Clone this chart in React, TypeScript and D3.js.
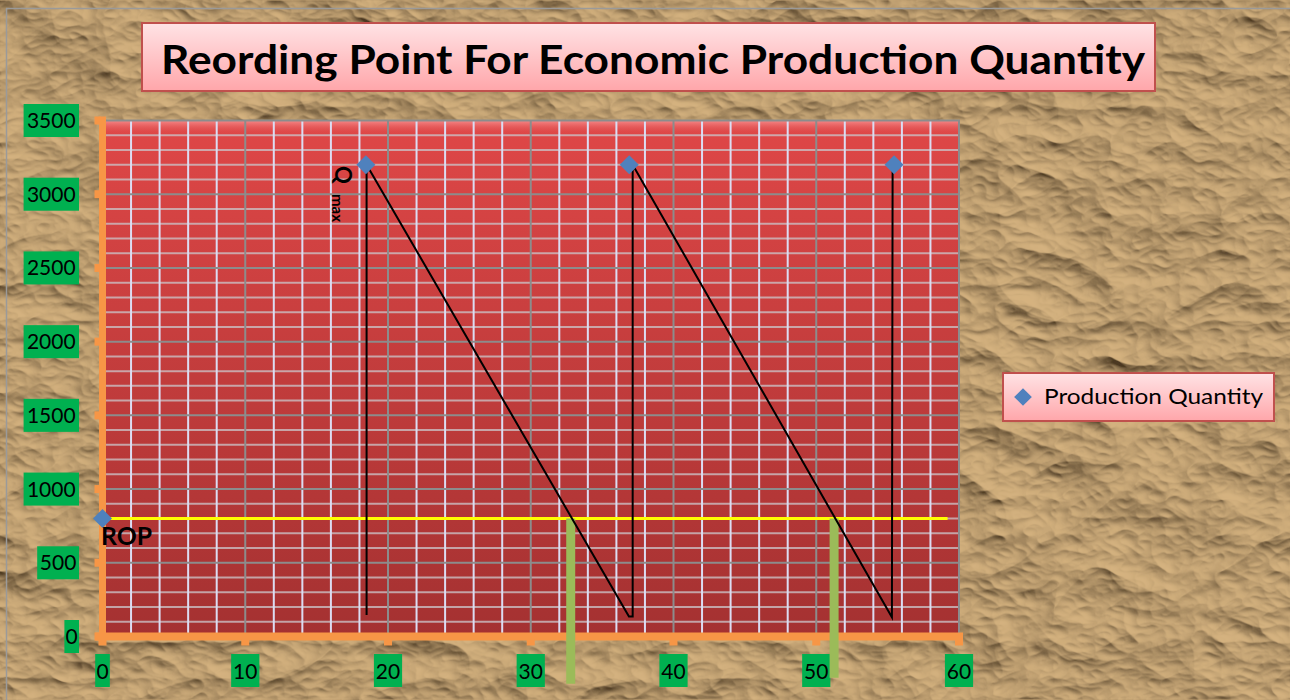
import React from "react";
import * as d3 from "d3";

const title = "Reording Point For Economic Production Quantity";
const legendLabel = "Production Quantity";
const xTicks = [0, 10, 20, 30, 40, 50, 60];
const yTicks = [0, 500, 1000, 1500, 2000, 2500, 3000, 3500];
// Production quantity markers (Q max) and the ROP marker
const qmaxX = [18.45, 36.9, 55.45];
const qmaxY = [3200, 3200, 3200];
const ropX = [0];
const ropY = [800];
// Inventory saw-tooth path
const invX = [18.5, 18.5, 36.88, 37.14, 37.14, 55.3, 55.35];
const invY = [145, 3200, 135, 135, 3200, 130, 3200];
// Reorder line
const ropLineX = [0, 59.2];
const ropLineY = [800, 800];
// Lead-time markers (green bars)
const leadX = [32.8, 51.25];
const leadTop = [800, 800];
const leadBottom = [-320, -280];

const W = 1290, H = 700;
const left = 102.5, right = 959, top = 120.5, bottom = 636.5;
const FONT = "Lato, 'Open Sans', sans-serif";

export default function App() {
  const x = d3.scaleLinear().domain([0, 60]).range([left, right]);
  const y = d3.scaleLinear().domain([0, 3500]).range([bottom, top]);
  const minorX = d3.range(0, 61, 2).filter((v) => v % 10 !== 0);
  const majorX = d3.range(10, 60, 10);
  const minorY = d3.range(100, 3500, 100).filter((v) => v % 500 !== 0);
  const majorY = d3.range(500, 3500, 500);
  const line = d3.line<number>().x((_, i) => x(invX[i])).y((_, i) => y(invY[i]));
  const ropLine = d3.line<number>().x((_, i) => x(ropLineX[i])).y((_, i) => y(ropLineY[i]));
  const diamond = d3.symbol().type(d3.symbolDiamond2).size(230)();
  const legendDiamond = d3.symbol().type(d3.symbolDiamond2).size(200)();
  const digitW = 13.6;

  return (
    <svg width={W} height={H} style={{ position: "absolute", left: 0, top: 0 }} fontFamily={FONT}>
      <defs>
        <filter id="paper" x="0" y="0" width="100%" height="100%" filterUnits="userSpaceOnUse">
          <feTurbulence type="turbulence" baseFrequency="0.009 0.014" numOctaves={4} seed={11} result="noise" />
          <feDiffuseLighting in="noise" lightingColor="#e2bf8a" surfaceScale={10} diffuseConstant={1.0} result="light">
            <feDistantLight azimuth={120} elevation={46} />
          </feDiffuseLighting>
          <feFlood floodColor="#86663e" result="base" />
          <feComposite in="light" in2="base" operator="arithmetic" k1={0} k2={0.78} k3={0.3} k4={0} />
        </filter>
        <linearGradient id="plotFill" x1="0" y1="0" x2="0" y2="1">
          <stop offset="0" stopColor="#df4747" />
          <stop offset="1" stopColor="#a43131" />
        </linearGradient>
        <linearGradient id="bevel" x1="0" y1="0" x2="0" y2="1">
          <stop offset="0" stopColor="#f58a8a" />
          <stop offset="1" stopColor="#e04848" stopOpacity={0} />
        </linearGradient>
        <linearGradient id="vgrid" x1="0" y1="0" x2="0" y2="1" gradientUnits="userSpaceOnUse">
          <stop offset="0" stopColor="#9fb7e6" />
          <stop offset="1" stopColor="#dcdcf2" />
        </linearGradient>
        <linearGradient id="pinkBox" x1="0" y1="0" x2="0" y2="1">
          <stop offset="0" stopColor="#ffe3e5" />
          <stop offset="1" stopColor="#ffa6aa" />
        </linearGradient>
      </defs>

      <rect x={0} y={0} width={W} height={H} fill="#ffffff" />
      <rect x={6} y={8} width={W - 6} height={H - 8} fill="#b89a6c" filter="url(#paper)" />
      <line x1={6.5} y1={8} x2={6.5} y2={H} stroke="#9a9a9a" strokeWidth={1.5} />
      <line x1={6} y1={8.5} x2={W} y2={8.5} stroke="#9a9a9a" strokeWidth={1.5} />

      {/* Title */}
      <rect x={142} y={23} width={1013} height={68} fill="url(#pinkBox)" stroke="#c0504d" strokeWidth={2} />
      <text x={653} y={74} textAnchor="middle" fontSize={40} fontWeight="bold" fill="#000"
        textLength={984} lengthAdjust="spacingAndGlyphs">{title}</text>

      {/* Plot area */}
      <rect x={left} y={top} width={right - left} height={bottom - top} fill="url(#plotFill)" />
      <rect x={left} y={top} width={right - left} height={14} fill="url(#bevel)" />
      {minorY.map((v) => (
        <line key={"hy" + v} x1={left} x2={right} y1={y(v)} y2={y(v)} stroke="#cbbfc3" strokeOpacity={0.8} strokeWidth={2} />
      ))}
      {minorX.map((v) => (
        <line key={"vx" + v} x1={x(v)} x2={x(v)} y1={top} y2={bottom} stroke="url(#vgrid)" strokeWidth={2} />
      ))}
      {majorY.map((v) => (
        <line key={"My" + v} x1={left} x2={right} y1={y(v)} y2={y(v)} stroke="#8c8c8c" strokeWidth={2} />
      ))}
      {majorX.map((v) => (
        <line key={"Mx" + v} x1={x(v)} x2={x(v)} y1={top} y2={bottom} stroke="#8c8c8c" strokeWidth={2} />
      ))}
      <line x1={left} x2={right + 1} y1={top} y2={top} stroke="#8c8c8c" strokeWidth={2} />
      <line x1={right} x2={right} y1={top} y2={bottom} stroke="#8c8c8c" strokeWidth={2} />

      {/* Axes */}
      <line x1={x(0)} x2={x(0)} y1={top - 4} y2={bottom + 4} stroke="#f79646" strokeWidth={7} />
      <line x1={x(0) - 7} x2={right + 4} y1={bottom} y2={bottom} stroke="#f79646" strokeWidth={8} />
      {yTicks.map((v) => (
        <rect key={"yt" + v} x={x(0) - 8} y={y(v) - 4} width={6} height={8} fill="#f79646" />
      ))}
      {xTicks.map((v) => (
        <rect key={"xt" + v} x={x(v) - 4} y={bottom + 3} width={8} height={6} fill="#f79646" />
      ))}

      {/* Y tick labels */}
      {yTicks.map((v) => {
        const s = String(v);
        const w = s.length * digitW + 1;
        return (
          <g key={"yl" + v}>
            <rect x={79 - w} y={y(v) - 16.5} width={w} height={33} fill="#00b050" />
            <text x={79 - w / 2} y={y(v) + 7.5} textAnchor="middle" fontSize={21} fill="#000">{s}</text>
          </g>
        );
      })}
      {/* X tick labels */}
      {xTicks.map((v) => {
        const s = String(v);
        const w = s.length * digitW + 1;
        return (
          <g key={"xl" + v}>
            <rect x={x(v) - w / 2} y={654} width={w} height={33} fill="#00b050" />
            <text x={x(v)} y={678.5} textAnchor="middle" fontSize={21} fill="#000">{s}</text>
          </g>
        );
      })}

      {/* Reorder line */}
      <path d={ropLine([0, 1]) || ""} stroke="#ffff00" strokeWidth={3} fill="none" />

      {/* Lead-time bars */}
      {leadX.map((v, i) => (
        <line key={"lead" + i} x1={x(v)} x2={x(v)} y1={y(leadTop[i])} y2={y(leadBottom[i])} stroke="#9bbb59" strokeWidth={9} />
      ))}

      {/* Inventory line */}
      <path d={line(invX.map((_, i) => i)) || ""} stroke="#000" strokeWidth={2} fill="none" />

      {/* Markers */}
      {qmaxX.map((v, i) => (
        <path key={"q" + i} d={diamond || ""} transform={`translate(${x(v)},${y(qmaxY[i])})`} fill="#4f81bd" />
      ))}
      {ropX.map((v, i) => (
        <path key={"r" + i} d={diamond || ""} transform={`translate(${x(v)},${y(ropY[i])})`} fill="#4f81bd" />
      ))}

      {/* Annotations */}
      <text x={101} y={545} fontSize={24} fontWeight="bold" fill="#000" textLength={51} lengthAdjust="spacingAndGlyphs">ROP</text>
      <g transform="translate(335,166) rotate(90)">
        <text x={0} y={0} fontSize={22} fontWeight="bold" fill="#000">
          Q
          <tspan x={28} dy={3} fontSize={15}>max</tspan>
        </text>
      </g>

      {/* Legend */}
      <rect x={1003} y={373} width={271} height={48} fill="url(#pinkBox)" stroke="#c0504d" strokeWidth={2} />
      <path d={legendDiamond || ""} transform="translate(1023,397)" fill="#4f81bd" />
      <text x={1044} y={404} fontSize={21} fill="#000" textLength={219} lengthAdjust="spacingAndGlyphs">{legendLabel}</text>
    </svg>
  );
}
